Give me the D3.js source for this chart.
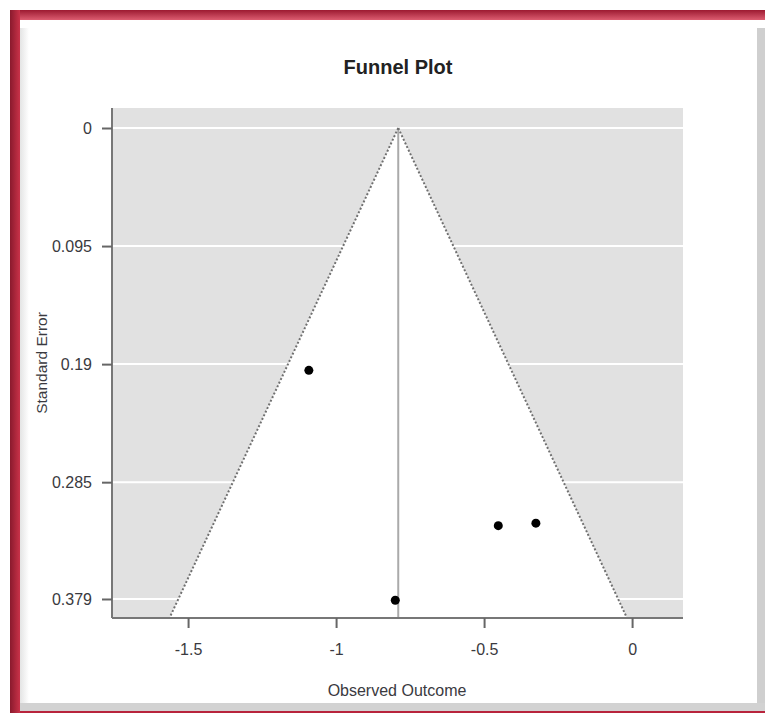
<!DOCTYPE html>
<html>
<head>
<meta charset="utf-8">
<script src="https://cdn.jsdelivr.net/npm/d3@7"></script>
<style>
	body { margin: 0; background: #fff; }
	svg { display: block; font-family: 'Liberation Sans', Arial, sans-serif; }
	.tick text { fill: #3a3a40; font-size: 16px; }
</style>
</head>
<body>
<div id="chart"></div>
<script>
let width = 765
let height = 713

// observed outcomes and their standard errors
let outcomes = [-1.092, -0.452, -0.325, -0.800]
let stdErrors = [0.195, 0.320, 0.318, 0.380]
let estimate = -0.79

let xTicks = [-1.5, -1, -0.5, 0]
let yTicks = [0, 0.095, 0.19, 0.285, 0.379]
let yTickLabels = ['0', '0.095', '0.19', '0.285', '0.379']

let plot = {
	left : 112,
	right : 683,
	top : 108,
	bottom : 618,
}

let xScale = d3.scaleLinear()
	.domain([-1.757, 0.172])
	.range([plot.left, plot.right])

let yScale = d3.scaleLinear()
	.domain([-0.0161, 0.3943])
	.range([plot.top, plot.bottom])

let svg = d3.select('#chart').append('svg')
	.attr('width', width)
	.attr('height', height)

let defs = svg.append('defs')

let topGrad = defs.append('linearGradient')
	.attr('id', 'topGrad')
	.attr('x1', 0).attr('y1', 0).attr('x2', 0).attr('y2', 1)
topGrad.append('stop').attr('offset', '0%').attr('stop-color', '#9c1a31')
topGrad.append('stop').attr('offset', '100%').attr('stop-color', '#dc5c70')

let leftGrad = defs.append('linearGradient')
	.attr('id', 'leftGrad')
	.attr('x1', 0).attr('y1', 0).attr('x2', 1).attr('y2', 0)
leftGrad.append('stop').attr('offset', '0%').attr('stop-color', '#8a1a2d')
leftGrad.append('stop').attr('offset', '100%').attr('stop-color', '#c93249')

let bevelGrad = defs.append('linearGradient')
	.attr('id', 'bevelGrad')
	.attr('x1', 0).attr('y1', 0).attr('x2', 1).attr('y2', 0)
bevelGrad.append('stop').attr('offset', '0%').attr('stop-color', '#e4e4e4')
bevelGrad.append('stop').attr('offset', '100%').attr('stop-color', '#ffffff')

// frame
let frame = svg.append('g')
frame.append('rect').attr('x', 10).attr('y', 10).attr('width', 755).attr('height', 703).attr('fill', '#b8243c')
frame.append('rect').attr('x', 20).attr('y', 20).attr('width', 745).attr('height', 691).attr('fill', '#fff')
frame.append('rect').attr('x', 10).attr('y', 10).attr('width', 755).attr('height', 10).attr('fill', 'url(#topGrad)')
frame.append('rect').attr('x', 10).attr('y', 10).attr('width', 10).attr('height', 703).attr('fill', 'url(#leftGrad)')
frame.append('rect').attr('x', 20).attr('y', 28).attr('width', 9).attr('height', 676).attr('fill', 'url(#bevelGrad)')
frame.append('rect').attr('x', 757).attr('y', 28).attr('width', 8).attr('height', 683).attr('fill', '#cfcfcf')
frame.append('rect').attr('x', 20).attr('y', 703).attr('width', 745).attr('height', 8).attr('fill', '#d2d2d2')

// panel
let panel = svg.append('g')
panel.append('rect')
	.attr('x', plot.left)
	.attr('y', plot.top)
	.attr('width', plot.right - plot.left)
	.attr('height', plot.bottom - plot.top)
	.attr('fill', '#e1e1e1')

panel.selectAll('.grid')
	.data(yTicks)
	.enter()
	.append('line')
	.attr('x1', plot.left)
	.attr('x2', plot.right)
	.attr('y1', (d) => yScale(d))
	.attr('y2', (d) => yScale(d))
	.attr('stroke', '#fff')
	.attr('stroke-width', 2)

// funnel region
let seMax = yScale.domain()[1]
let funnel = [
	[estimate, 0],
	[estimate + 1.96 * seMax, seMax],
	[estimate - 1.96 * seMax, seMax],
]

panel.append('path')
	.attr('d', d3.line().x((d) => xScale(d[0])).y((d) => yScale(d[1]))(funnel) + 'Z')
	.attr('fill', '#fff')

panel.append('line')
	.attr('x1', xScale(estimate)).attr('x2', xScale(estimate))
	.attr('y1', yScale(0)).attr('y2', plot.bottom)
	.attr('stroke', '#aaa')
	.attr('stroke-width', 2)

panel.selectAll('.edge')
	.data([funnel[1], funnel[2]])
	.enter()
	.append('line')
	.attr('x1', xScale(estimate))
	.attr('y1', yScale(0))
	.attr('x2', (d) => xScale(d[0]))
	.attr('y2', (d) => yScale(d[1]))
	.attr('stroke', '#707070')
	.attr('stroke-width', 2)
	.attr('stroke-dasharray', '2,2')

// axes
let xAxis = d3.axisBottom(xScale)
	.tickValues(xTicks)
	.tickFormat((d) => d === 0 ? '0' : d3.format('')(d).replace('\u2212', '-'))
	.tickSize(10)
	.tickPadding(16)

let yAxis = d3.axisLeft(yScale)
	.tickValues(yTicks)
	.tickFormat((d, i) => yTickLabels[i])
	.tickSize(10)
	.tickPadding(10)

let gx = svg.append('g')
	.attr('transform', `translate(0,${plot.bottom})`)
	.call(xAxis)
gx.select('.domain').attr('d', `M${plot.left},0H${plot.right}`)

let gy = svg.append('g')
	.attr('transform', `translate(${plot.left},0)`)
	.call(yAxis)
gy.select('.domain').attr('d', `M0,${plot.top}V${plot.bottom}`)

svg.selectAll('.domain').attr('stroke', '#777').attr('stroke-width', 2)
svg.selectAll('.tick line').attr('stroke', '#666').attr('stroke-width', 2)
svg.selectAll('.tick text').attr('font-family', null).attr('font-size', null)

// points
svg.append('g').selectAll('circle')
	.data(outcomes)
	.enter()
	.append('circle')
	.attr('cx', (d) => xScale(d))
	.attr('cy', (d, i) => yScale(stdErrors[i]))
	.attr('r', 4.5)
	.attr('fill', '#000')

// labels
svg.append('text')
	.text('Funnel Plot')
	.attr('x', 398)
	.attr('y', 74)
	.attr('text-anchor', 'middle')
	.attr('font-size', 20)
	.attr('font-weight', 'bold')
	.attr('fill', '#222')

svg.append('text')
	.text('Observed Outcome')
	.attr('x', 397)
	.attr('y', 696)
	.attr('text-anchor', 'middle')
	.attr('font-size', 16)
	.attr('fill', '#3a3a40')

svg.append('text')
	.text('Standard Error')
	.attr('transform', 'translate(47,363) rotate(-90)')
	.attr('text-anchor', 'middle')
	.attr('font-size', 15.5)
	.attr('fill', '#3a3a40')
</script>
</body>
</html>
